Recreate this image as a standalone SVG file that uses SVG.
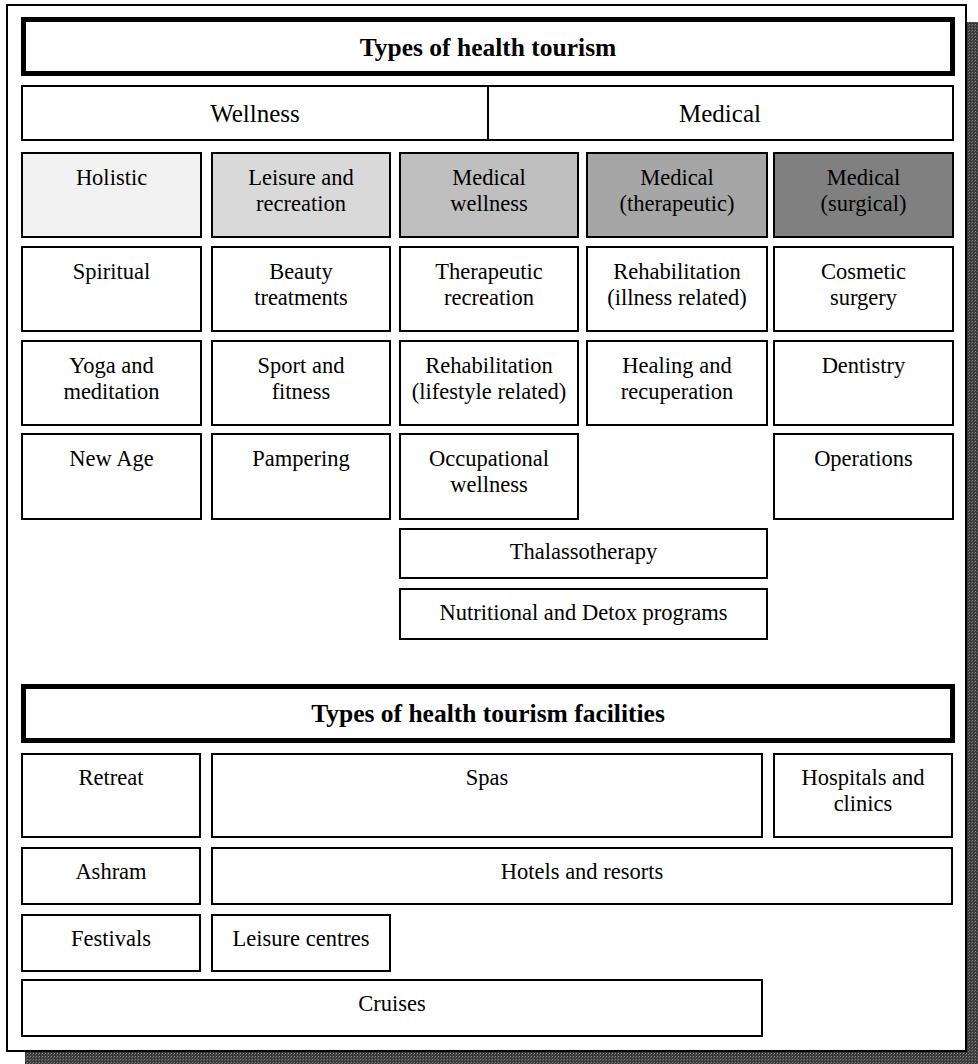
<svg xmlns="http://www.w3.org/2000/svg" width="978" height="1064" viewBox="0 0 978 1064">
<defs>
<pattern id="dots" width="3" height="3" patternUnits="userSpaceOnUse">
<rect width="3" height="3" fill="#3a3a3a"/>
<rect x="0" y="0" width="1" height="1" fill="#8a8a8a"/>
<rect x="2" y="1" width="1" height="1" fill="#6a6a6a"/>
</pattern>
</defs>
<style>
.box{fill:#fff;stroke:#000;stroke-width:2}
.thick{fill:#fff;stroke:#000;stroke-width:5}
.t{font-family:"Liberation Serif","Times New Roman",serif;font-size:22.5px;fill:#000;text-anchor:middle}
.big{font-size:25px}
.b{font-family:"Liberation Serif","Times New Roman",serif;font-size:25.5px;font-weight:bold;fill:#000;text-anchor:middle}
</style>
<rect width="978" height="1064" fill="#fff"/>
<g id="shadow">
<rect x="966" y="22" width="12" height="1042" fill="url(#dots)"/>
<rect x="25" y="1051" width="953" height="13" fill="url(#dots)"/>
</g>
<rect id="frame" x="7" y="5" width="959" height="1046" fill="#fff" stroke="#000" stroke-width="2"/>

<g id="title1"><rect class="thick" x="23.5" y="19.5" width="929" height="54"/><text class="b" x="488" y="56">Types of health tourism</text></g>

<g id="wellness-medical">
<rect class="box" x="22" y="86" width="931" height="54"/>
<line x1="488" y1="86" x2="488" y2="140" stroke="#000" stroke-width="2"/>
<text class="t big" x="255" y="122">Wellness</text>
<text class="t big" x="720" y="122">Medical</text>
</g>

<g id="holistic"><rect class="box" x="22" y="153" width="179" height="84" style="fill:#f2f2f2"/><text class="t" x="111.5" y="185">Holistic</text></g>
<g id="leisure"><rect class="box" x="212" y="153" width="178" height="84" style="fill:#d9d9d9"/><text class="t" x="301" y="185">Leisure and</text><text class="t" x="301" y="211">recreation</text></g>
<g id="medwellness"><rect class="box" x="400" y="153" width="178" height="84" style="fill:#bfbfbf"/><text class="t" x="489" y="185">Medical</text><text class="t" x="489" y="211">wellness</text></g>
<g id="medtherapeutic"><rect class="box" x="587" y="153" width="180" height="84" style="fill:#a6a6a6"/><text class="t" x="677" y="185">Medical</text><text class="t" x="677" y="211">(therapeutic)</text></g>
<g id="medsurgical"><rect class="box" x="774" y="153" width="179" height="84" style="fill:#808080"/><text class="t" x="863.5" y="185">Medical</text><text class="t" x="863.5" y="211">(surgical)</text></g>

<g id="spiritual"><rect class="box" x="22" y="247" width="179" height="84"/><text class="t" x="111.5" y="279">Spiritual</text></g>
<g id="beauty"><rect class="box" x="212" y="247" width="178" height="84"/><text class="t" x="301" y="279">Beauty</text><text class="t" x="301" y="305">treatments</text></g>
<g id="therrec"><rect class="box" x="400" y="247" width="178" height="84"/><text class="t" x="489" y="279">Therapeutic</text><text class="t" x="489" y="305">recreation</text></g>
<g id="rehabill"><rect class="box" x="587" y="247" width="180" height="84"/><text class="t" x="677" y="279">Rehabilitation</text><text class="t" x="677" y="305">(illness related)</text></g>
<g id="cosmetic"><rect class="box" x="774" y="247" width="179" height="84"/><text class="t" x="863.5" y="279">Cosmetic</text><text class="t" x="863.5" y="305">surgery</text></g>

<g id="yoga"><rect class="box" x="22" y="341" width="179" height="84"/><text class="t" x="111.5" y="373">Yoga and</text><text class="t" x="111.5" y="399">meditation</text></g>
<g id="sport"><rect class="box" x="212" y="341" width="178" height="84"/><text class="t" x="301" y="373">Sport and</text><text class="t" x="301" y="399">fitness</text></g>
<g id="rehablife"><rect class="box" x="400" y="341" width="178" height="84"/><text class="t" x="489" y="373">Rehabilitation</text><text class="t" x="489" y="399">(lifestyle related)</text></g>
<g id="healing"><rect class="box" x="587" y="341" width="180" height="84"/><text class="t" x="677" y="373">Healing and</text><text class="t" x="677" y="399">recuperation</text></g>
<g id="dentistry"><rect class="box" x="774" y="341" width="179" height="84"/><text class="t" x="863.5" y="373">Dentistry</text></g>

<g id="newage"><rect class="box" x="22" y="434" width="179" height="85"/><text class="t" x="111.5" y="466">New Age</text></g>
<g id="pampering"><rect class="box" x="212" y="434" width="178" height="85"/><text class="t" x="301" y="466">Pampering</text></g>
<g id="occupational"><rect class="box" x="400" y="434" width="178" height="85"/><text class="t" x="489" y="466">Occupational</text><text class="t" x="489" y="492">wellness</text></g>
<g id="operations"><rect class="box" x="774" y="434" width="179" height="85"/><text class="t" x="863.5" y="466">Operations</text></g>

<g id="thalasso"><rect class="box" x="400" y="529" width="367" height="49"/><text class="t" x="583.5" y="559">Thalassotherapy</text></g>
<g id="nutritional"><rect class="box" x="400" y="589" width="367" height="50"/><text class="t" x="583.5" y="620">Nutritional and Detox programs</text></g>

<g id="title2"><rect class="thick" x="23.5" y="686.5" width="929" height="54"/><text class="b" x="488" y="722">Types of health tourism facilities</text></g>

<g id="retreat"><rect class="box" x="22" y="754" width="178" height="83"/><text class="t" x="111" y="785">Retreat</text></g>
<g id="spas"><rect class="box" x="212" y="754" width="550" height="83"/><text class="t" x="487" y="785">Spas</text></g>
<g id="hospitals"><rect class="box" x="774" y="754" width="178" height="83"/><text class="t" x="863" y="785">Hospitals and</text><text class="t" x="863" y="811">clinics</text></g>

<g id="ashram"><rect class="box" x="22" y="848" width="178" height="56"/><text class="t" x="111" y="879">Ashram</text></g>
<g id="hotels"><rect class="box" x="212" y="848" width="740" height="56"/><text class="t" x="582" y="879">Hotels and resorts</text></g>

<g id="festivals"><rect class="box" x="22" y="915" width="178" height="56"/><text class="t" x="111" y="946">Festivals</text></g>
<g id="leisurecentres"><rect class="box" x="212" y="915" width="178" height="56"/><text class="t" x="301" y="946">Leisure centres</text></g>

<g id="cruises"><rect class="box" x="22" y="980" width="740" height="56"/><text class="t" x="392" y="1011">Cruises</text></g>

<g id="connectors"></g>
</svg>
